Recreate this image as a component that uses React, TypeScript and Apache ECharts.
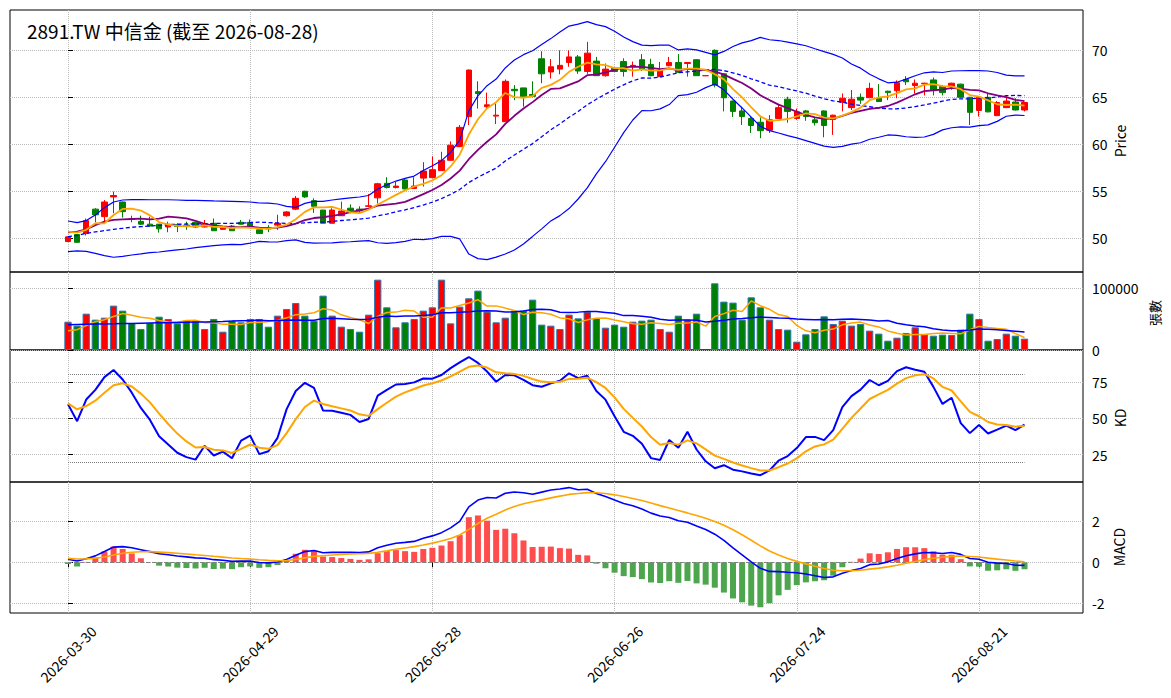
import React, { useEffect, useRef } from "react";
import * as echarts from "echarts";

// ---------- data ----------
const dates = [
  "2026-03-30","2026-03-31","2026-04-01","2026-04-02","2026-04-07","2026-04-08","2026-04-09","2026-04-10","2026-04-13","2026-04-14",
  "2026-04-15","2026-04-16","2026-04-17","2026-04-20","2026-04-21","2026-04-22","2026-04-23","2026-04-24","2026-04-27","2026-04-28",
  "2026-04-29","2026-04-30","2026-05-04","2026-05-05","2026-05-06","2026-05-07","2026-05-08","2026-05-11","2026-05-12","2026-05-13",
  "2026-05-14","2026-05-15","2026-05-18","2026-05-19","2026-05-20","2026-05-21","2026-05-22","2026-05-25","2026-05-26","2026-05-27",
  "2026-05-28","2026-05-29","2026-06-01","2026-06-02","2026-06-03","2026-06-04","2026-06-05","2026-06-08","2026-06-09","2026-06-10",
  "2026-06-11","2026-06-12","2026-06-15","2026-06-16","2026-06-17","2026-06-18","2026-06-22","2026-06-23","2026-06-24","2026-06-25",
  "2026-06-26","2026-06-29","2026-06-30","2026-07-01","2026-07-02","2026-07-03","2026-07-06","2026-07-07","2026-07-08","2026-07-09",
  "2026-07-10","2026-07-13","2026-07-14","2026-07-15","2026-07-16","2026-07-17","2026-07-20","2026-07-21","2026-07-22","2026-07-23",
  "2026-07-24","2026-07-27","2026-07-28","2026-07-29","2026-07-30","2026-07-31","2026-08-03","2026-08-04","2026-08-05","2026-08-06",
  "2026-08-07","2026-08-10","2026-08-11","2026-08-12","2026-08-13","2026-08-14","2026-08-17","2026-08-18","2026-08-19","2026-08-20",
  "2026-08-21","2026-08-24","2026-08-25","2026-08-26","2026-08-27","2026-08-28",
];

const opens = [
  49.65, 50.4, 50.5, 53.1, 52.3, 54.4, 53.86, 52.1, 51.8, 51.5,
  51.5, 51.2, 51.45, 51.4, 51.7, 51.2, 51.6, 50.95, 51.3, 51.7,
  51.7, 50.9, 51.15, 51.4, 52.4, 53.1, 55.0, 54.0, 53.0, 51.6,
  52.4, 53.2, 53.1, 53.4, 54.3, 55.85, 55.4, 56.2, 55.3, 56.4,
  56.45, 57.2, 58.3, 59.75, 62.95, 65.6, 64.0, 63.0, 62.4, 65.85,
  66.0, 65.3, 69.1, 67.7, 68.0, 68.7, 69.3, 67.75, 68.85, 67.3,
  68.1, 68.8, 68.3, 69.0, 68.5, 67.2, 68.36, 68.7, 68.6, 69.0,
  67.3, 70.0, 67.5, 64.6, 63.55, 62.75, 62.35, 61.5, 62.75, 64.8,
  62.75, 63.55, 62.6, 63.55, 62.65, 64.47, 63.9, 65.0, 64.96, 64.9,
  65.65, 65.7, 66.9, 66.25, 66.45, 66.85, 66.15, 66.15, 66.4, 65.0,
  63.6, 65.0, 63.05, 63.9, 64.5, 63.65,
];
const closes = [
  50.15, 49.57, 51.88, 52.5, 53.86, 54.55, 52.83, 52.0, 51.5, 51.3,
  51.0, 51.5, 51.25, 51.35, 51.2, 51.5, 50.8, 51.15, 50.8, 51.5,
  51.3, 50.5, 51.0, 51.6, 52.8, 54.25, 54.4, 53.4, 51.6, 53.0,
  52.9, 52.95, 52.9, 53.45, 55.8, 55.4, 55.55, 55.25, 55.55, 57.15,
  57.3, 58.3, 59.9, 61.8, 67.9, 65.4, 64.2, 63.1, 66.7, 65.7,
  65.06, 65.1, 67.5, 68.25, 68.4, 69.3, 67.8, 69.7, 67.3, 68.0,
  67.75, 67.75, 68.4, 68.0, 67.3, 67.9, 68.7, 67.66, 68.7, 67.3,
  67.3, 66.3, 64.95, 63.5, 62.95, 62.0, 61.45, 62.6, 63.9, 63.5,
  63.45, 62.95, 62.3, 62.0, 63.1, 64.9, 64.8, 64.7, 65.95, 64.55,
  65.5, 66.55, 66.65, 66.5, 66.5, 65.8, 65.5, 66.5, 65.0, 63.4,
  65.0, 63.45, 64.45, 64.6, 63.65, 64.45,
];
const lows = [
  49.6, 49.55, 50.3, 51.7, 51.6, 52.66, 52.2, 51.7, 51.4, 51.2,
  50.6, 50.64, 50.65, 50.9, 51.1, 51.15, 50.8, 50.9, 50.8, 51.45,
  51.2, 50.5, 50.65, 50.9, 52.3, 53.0, 54.3, 52.7, 51.6, 51.6,
  52.4, 52.65, 52.6, 53.3, 53.7, 55.3, 55.3, 55.2, 55.3, 55.5,
  56.4, 57.2, 58.26, 59.7, 62.05, 63.8, 63.8, 62.15, 62.4, 64.7,
  64.0, 65.0, 66.5, 67.0, 67.45, 68.25, 67.5, 67.5, 67.3, 67.2,
  67.7, 67.2, 67.2, 67.8, 67.25, 67.2, 68.3, 67.6, 67.2, 67.3,
  67.3, 66.06, 63.5, 62.9, 62.05, 61.2, 60.65, 61.2, 62.7, 62.3,
  62.6, 62.5, 62.0, 60.75, 61.0, 63.5, 63.65, 64.3, 64.9, 64.5,
  64.7, 64.9, 66.3, 65.4, 65.2, 65.2, 65.2, 65.8, 64.95, 62.05,
  62.95, 63.4, 63.0, 63.85, 63.6, 63.5,
];
const highs = [
  50.2, 50.45, 52.1, 53.2, 54.07, 54.96, 53.9, 52.4, 52.4, 52.3,
  51.5, 51.77, 51.6, 51.77, 51.75, 51.95, 52.1, 51.3, 51.4, 51.95,
  52.0, 50.9, 51.4, 52.5, 52.9, 54.5, 55.05, 54.25, 53.0, 53.2,
  53.9, 53.6, 53.4, 54.7, 55.9, 56.5, 56.0, 56.3, 56.5, 58.1,
  58.7, 59.2, 60.3, 62.05, 67.95, 66.7, 65.5, 64.35, 66.9, 66.3,
  66.0, 66.7, 69.9, 69.07, 70.0, 70.0, 69.5, 70.9, 69.3, 68.6,
  68.15, 69.15, 68.8, 69.6, 69.1, 68.76, 69.3, 69.6, 68.75, 69.05,
  67.3, 70.1, 67.55, 64.65, 64.0, 63.0, 62.87, 63.1, 64.3, 65.06,
  63.8, 63.65, 62.9, 63.6, 63.15, 65.4, 65.78, 65.4, 66.55, 66.4,
  65.7, 66.8, 67.25, 66.9, 66.55, 67.1, 66.3, 66.55, 66.45, 65.05,
  65.05, 65.4, 64.6, 65.07, 64.9, 64.5,
];
const volumes = [
  45900, 39500, 58900, 49200, 52400, 71900, 63800, 43800, 34100, 43800,
  54000, 50300, 43200, 47600, 46500, 34100, 50300, 29700, 47600, 44900,
  50300, 50300, 37800, 55700, 66500, 76200, 55700, 47600, 88100, 55700,
  37800, 34100, 29700, 57300, 114000, 69200, 36800, 44900, 50300, 63800,
  69200, 114000, 43200, 70300, 83800, 96200, 62200, 44900, 52400, 63800,
  63800, 81600, 41100, 39400, 34000, 57300, 51300, 62200, 51900, 36200,
  41100, 37800, 45900, 47600, 49200, 34000, 29700, 55700, 49200, 58900,
  0, 108100, 78400, 76800, 49200, 85400, 69200, 49200, 34000, 33000,
  13500, 25400, 34000, 54600, 42200, 47600, 39500, 42200, 31400, 26500,
  15100, 20000, 27600, 36800, 25400, 23200, 24900, 24300, 33000, 58900,
  50300, 15100, 17800, 26500, 23200, 18400,
];

// warm-up values (indicator values at the start,
// where the rolling window reaches back before the first visible day)
const ma5Head = [50.7, 50.6, 50.9, 51.6];
const ma10Head = [50.63, 50.7, 50.95, 51.4, 51.77, 51.95, 52.0, 52.05, 52.09];
const ma20Head = [50.17, 50.28, 50.53, 50.67, 50.81, 50.95, 51.06, 51.17, 51.24, 51.31, 51.38, 51.45, 51.49, 51.52, 51.52, 51.56, 51.56, 51.59, 51.59];
const bbUpperHead = [51.84, 51.66, 51.88, 52.48, 53.26, 53.86, 54.07, 54.11, 54.11, 54.1, 54.1, 54.1, 54.07, 54.04, 54.03, 54.0, 53.97, 53.96, 53.93];
const bbLowerHead = [48.58, 48.65, 48.61, 48.4, 48.15, 47.98, 48.08, 48.22, 48.33, 48.47, 48.54, 48.65, 48.76, 48.86, 49.0, 49.11, 49.22, 49.29, 49.36];
const volMa5Head = [31300, 33000, 39500, 45900];
const volMa20Head = [41100, 41400, 41700, 42000, 42300, 42500, 42800, 43100, 43400, 43700, 44000, 44300, 44600, 44900, 45200, 45500, 45900, 46300, 46800];
const kdSeed = { k: 61.8, d: 60.6, high9: 51.0, low9: 49.1 };
const macdSeed = { ema12: 50.6, ema26: 50.4, dea: 0.2 };

const xTickIdx = [0, 20, 40, 60, 80, 100];
const priceTicks = [50, 55, 60, 65, 70];
const volTicks = [0, 100000];
const kdTicks = [25, 50, 75];
const macdTicks = [-2, 0, 2];

// ---------- indicators ----------
function rollingMean(arr: number[], n: number, head: number[]) {
  return arr.map((_, i) => {
    if (i < n - 1) return head[i];
    let s = 0;
    for (let j = i - n + 1; j <= i; j++) s += arr[j];
    return s / n;
  });
}
function rollingStd(arr: number[], n: number) {
  return arr.map((_, i) => {
    if (i < n - 1) return NaN;
    let s = 0;
    for (let j = i - n + 1; j <= i; j++) s += arr[j];
    const m = s / n;
    let v = 0;
    for (let j = i - n + 1; j <= i; j++) v += (arr[j] - m) * (arr[j] - m);
    return Math.sqrt(v / (n - 1));
  });
}

const ma5 = rollingMean(closes, 5, ma5Head);
const ma10 = rollingMean(closes, 10, ma10Head);
const ma20 = rollingMean(closes, 20, ma20Head);
const sd20 = rollingStd(closes, 20);
const bbUpper = closes.map((_, i) => (i < 19 ? bbUpperHead[i] : ma20[i] + 2 * sd20[i]));
const bbLower = closes.map((_, i) => (i < 19 ? bbLowerHead[i] : ma20[i] - 2 * sd20[i]));
const volMa5 = rollingMean(volumes, 5, volMa5Head);
const volMa20 = rollingMean(volumes, 20, volMa20Head);

const kArr: number[] = [];
const dArr: number[] = [];
{
  let k = kdSeed.k;
  let d = kdSeed.d;
  for (let i = 0; i < closes.length; i++) {
    let h = -Infinity;
    let l = Infinity;
    for (let j = Math.max(0, i - 8); j <= i; j++) {
      h = Math.max(h, highs[j]);
      l = Math.min(l, lows[j]);
    }
    if (i < 8) {
      h = Math.max(h, kdSeed.high9);
      l = Math.min(l, kdSeed.low9);
    }
    const rsv = h > l ? ((closes[i] - l) / (h - l)) * 100 : 50;
    k = (2 / 3) * k + (1 / 3) * rsv;
    d = (2 / 3) * d + (1 / 3) * k;
    kArr.push(k);
    dArr.push(d);
  }
}

const difArr: number[] = [];
const deaArr: number[] = [];
const histArr: number[] = [];
{
  let e12 = macdSeed.ema12;
  let e26 = macdSeed.ema26;
  let dea = macdSeed.dea;
  for (let i = 0; i < closes.length; i++) {
    e12 = e12 + (2 / 13) * (closes[i] - e12);
    e26 = e26 + (2 / 27) * (closes[i] - e26);
    const dif = e12 - e26;
    dea = dea + 0.2 * (dif - dea);
    difArr.push(dif);
    deaArr.push(dea);
    histArr.push(2 * (dif - dea));
  }
}

// ---------- chart ----------
const FONT = "'Noto Sans CJK TC', 'Noto Sans', sans-serif";
const X_MIN = -6.367;
const X_MAX = 111.42;
const RED = "#ff0000";
const GREEN = "#008000";
const GRID_LINE = { show: true, lineStyle: { color: "#b8b8b8", type: "dotted" as const, width: 1 } };

function buildOption() {
  const idx = closes.map((_, i) => i);
  const pair = (arr: number[]) => idx.map((i) => [i, arr[i]]);

  const grids = [
    { left: 10, top: 10, width: 1073, height: 262 },
    { left: 10, top: 272, width: 1073, height: 78 },
    { left: 10, top: 350, width: 1073, height: 132 },
    { left: 10, top: 482, width: 1073, height: 131 },
  ].map((g) => ({ ...g, show: true, borderColor: "#000", borderWidth: 1, backgroundColor: "transparent" }));

  const xAxes = grids.map((_, gi) => ({
    type: "value",
    gridIndex: gi,
    min: X_MIN,
    max: X_MAX,
    axisLine: { show: false },
    axisTick: { show: gi === 3, customValues: xTickIdx, length: 5, lineStyle: { color: "#000" } },
    axisLabel: {
      show: gi === 3,
      customValues: xTickIdx,
      formatter: (v: number) => dates[Math.round(v)] ?? "",
      rotate: 45,
      align: "center",
      verticalAlign: "middle",
      margin: 41,
      fontSize: 14,
      color: "#000",
      fontFamily: FONT,
    },
    splitLine: GRID_LINE,
  }));

  const yDefs = [
    { min: 46.41, max: 74.29, ticks: priceTicks },
    { min: 0, max: 126400, ticks: volTicks },
    { min: 6.13, max: 97.0, ticks: kdTicks },
    { min: -2.473, max: 3.917, ticks: macdTicks },
  ];
  const yAxes = yDefs.map((d, gi) => ({
    type: "value",
    gridIndex: gi,
    position: "right",
    min: d.min,
    max: d.max,
    axisLine: { show: false },
    axisTick: { show: true, customValues: d.ticks, length: 5, lineStyle: { color: "#000" } },
    axisLabel: {
      customValues: d.ticks,
      formatter: (v: number) => String(v),
      margin: 9,
      fontSize: 14,
      color: "#000",
      fontFamily: FONT,
    },
    splitLine: GRID_LINE,
  }));

  const line = (name: string, data: number[], gi: number, color: string, width: number, type: any = "solid", z = 5) => ({
    type: "line",
    name,
    xAxisIndex: gi,
    yAxisIndex: gi,
    data: pair(data),
    showSymbol: false,
    symbol: "none",
    lineStyle: { color, width, type },
    z,
    silent: true,
  });

  const series: any[] = [
    {
      type: "candlestick",
      name: "K線",
      xAxisIndex: 0,
      yAxisIndex: 0,
      encode: { x: 0, y: [1, 2, 3, 4] },
      data: idx.map((i) => [i, opens[i], closes[i], lows[i], highs[i]]),
      barWidth: 6,
      itemStyle: { color: RED, color0: GREEN, borderColor: RED, borderColor0: GREEN, borderWidth: 1 },
      z: 2,
    },
    line("BB上軌", bbUpper, 0, "#0000ff", 1.2),
    line("BB下軌", bbLower, 0, "#0000ff", 1.2),
    line("MA20", ma20, 0, "#0000ff", 1.3, [4, 2.5]),
    line("MA10", ma10, 0, "#800080", 1.8),
    line("MA5", ma5, 0, "#ffa500", 1.8),
    {
      type: "bar",
      name: "成交量",
      xAxisIndex: 1,
      yAxisIndex: 1,
      barWidth: 7.3,
      data: idx.map((i) => ({
        value: [i, volumes[i]],
        itemStyle: {
          color: closes[i] >= opens[i] ? RED : GREEN,
          borderColor: "#2a78b4",
          borderWidth: volumes[i] > 0 ? 1 : 0,
        },
      })),
      z: 2,
    },
    line("量MA5", volMa5, 1, "#ffa500", 1.5),
    line("量MA20", volMa20, 1, "#0000ff", 1.5),
    {
      ...line("K", kArr, 2, "#0000ff", 2),
      markLine: {
        silent: true,
        symbol: ["none", "none"],
        label: { show: false },
        lineStyle: { color: "#808080", type: "dotted", width: 1 },
        data: [
          [{ coord: [0, 80] }, { coord: [105, 80] }],
          [{ coord: [0, 20] }, { coord: [105, 20] }],
        ],
      },
    },
    line("D", dArr, 2, "#ffa500", 2),
    {
      type: "bar",
      name: "OSC",
      xAxisIndex: 3,
      yAxisIndex: 3,
      barWidth: 6,
      data: idx.map((i) => ({
        value: [i, histArr[i]],
        itemStyle: { color: histArr[i] >= 0 ? "#ff4d4d" : "#4da64d" },
      })),
      z: 2,
      markLine: {
        silent: true,
        symbol: ["none", "none"],
        label: { show: false },
        lineStyle: { color: "#808080", type: "dashed", width: 1 },
        data: [[{ coord: [0, 0] }, { coord: [105, 0] }]],
      },
    },
    line("DIF", difArr, 3, "#0000ff", 1.6),
    line("DEA", deaArr, 3, "#ffa500", 1.6),
  ];

  const axisName = (text: string, x: number, y: number, size = 14) => ({
    type: "text",
    x,
    y,
    rotation: Math.PI / 2,
    silent: true,
    style: { text, fill: "#000", font: `${size}px ${FONT}`, align: "center", verticalAlign: "middle" },
  });

  return {
    animation: false,
    backgroundColor: "#ffffff",
    grid: grids,
    xAxis: xAxes,
    yAxis: yAxes,
    series,
    graphic: [
      {
        type: "text",
        x: 27,
        y: 30,
        silent: true,
        style: {
          text: "2891.TW 中信金 (截至 2026-08-28)",
          fill: "#000",
          font: `19px ${FONT}`,
          align: "left",
          verticalAlign: "middle",
        },
      },
      axisName("Price", 1120, 141),
      axisName("張數", 1154, 313, 13),
      axisName("KD", 1120, 418),
      axisName("MACD", 1119, 547),
    ],
  };
}

export default function App() {
  const ref = useRef<HTMLDivElement>(null);
  useEffect(() => {
    if (!ref.current) return;
    const chart = echarts.init(ref.current, null, { renderer: "svg" });
    chart.setOption(buildOption() as any);
    return () => chart.dispose();
  }, []);
  return (
    <div
      ref={ref}
      style={{ position: "fixed", left: 0, top: 0, width: 1171, height: 698, background: "#fff" }}
    />
  );
}
